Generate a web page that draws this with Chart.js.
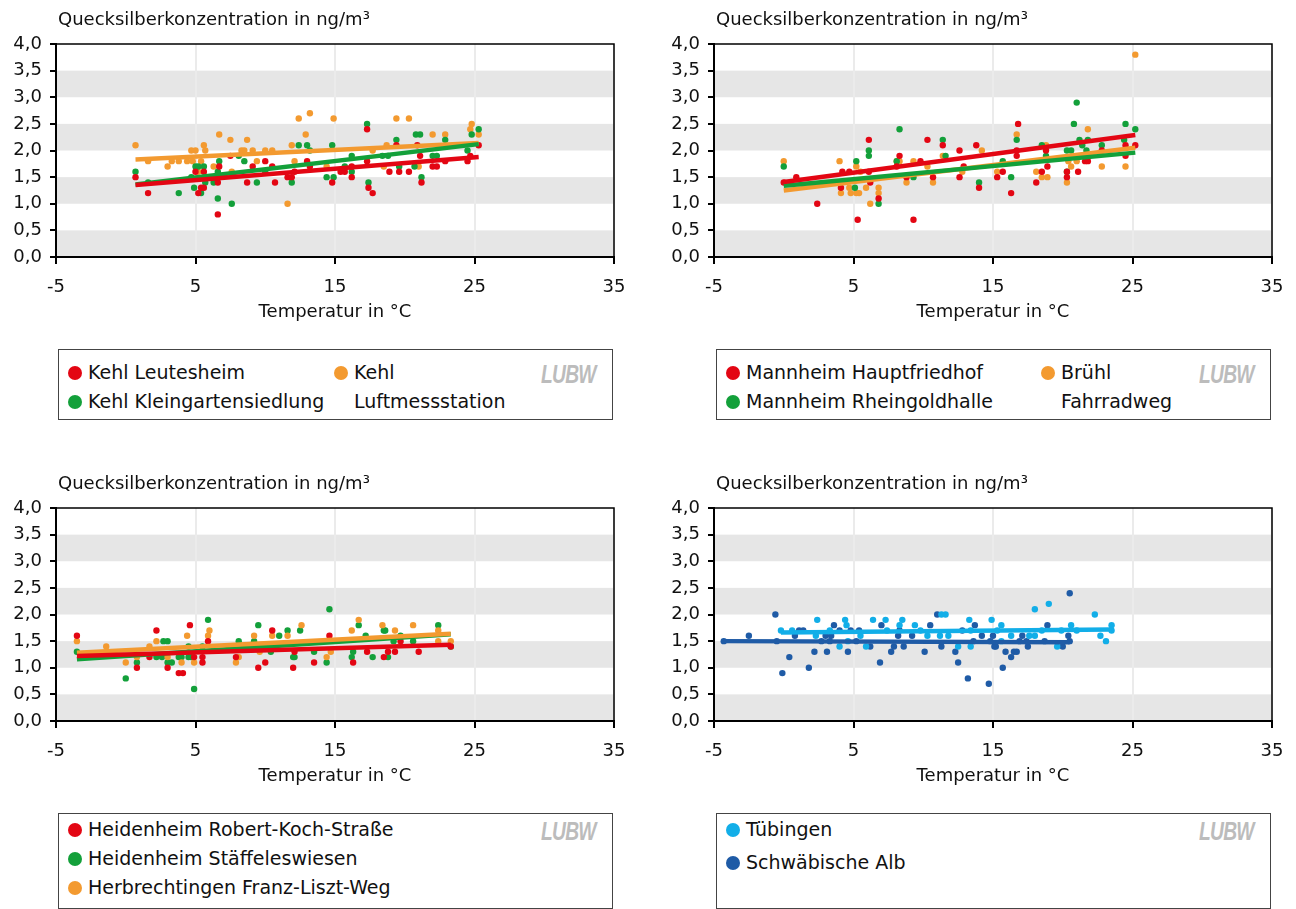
<!DOCTYPE html>
<html>
<head>
<meta charset="utf-8">
<script src="https://cdn.jsdelivr.net/npm/chart.js@4/dist/chart.umd.min.js"></script>
<style>
  body { margin: 0; background: #fff; font-family: "DejaVu Sans", sans-serif; color: #111; }
  .panel { position: absolute; width: 640px; height: 340px; }
  .panel canvas { position: absolute; left: 0; top: 0; }
  .ytitle { position: absolute; left: 58px; top: 8px; font-size: 18px; white-space: nowrap; }
  .legend { position: absolute; width: 555px; border: 1px solid #444; box-sizing: border-box; background: #fff; }
  .item { position: absolute; font-size: 19px; line-height: 29px; white-space: nowrap; }
  .dot { position: absolute; width: 14px; height: 14px; border-radius: 50%; }
  .logo { position: absolute; font: italic bold 26px "Liberation Sans", sans-serif; color: #bcbcbc;
          transform: scaleX(0.74); transform-origin: left top; letter-spacing: -1px; }
</style>
</head>
<body>
<div id="root"></div>
<script>
// axis ticks and background bands
const xTicks = [-5, 5, 15, 25, 35];
const yTicks = [0, 0.5, 1, 1.5, 2, 2.5, 3, 3.5, 4];
const grayBands = [[0, 0.5], [1, 1.5], [2, 2.5], [3, 3.5]];

const RED = '#e30613';
const GREEN = '#13a03a';
const ORANGE = '#f39a30';
const LIGHTBLUE = '#12aee8';
const DARKBLUE = '#1f5ba6';

// Kehl  [temperature °C, mercury ng/m³]
const kehlLeutesheim = [[0.7,1.5],[1.6,1.2],[5.0,1.6],[5.6,1.6],[5.4,1.3],[5.2,1.2],[5.6,1.3],[6.6,0.8],[6.6,1.4],[6.7,1.7],[7.5,1.9],[8.7,1.4],[9.1,1.7],[10.0,1.8],[10.5,1.7],[10.7,1.4],[11.6,1.5],[11.9,1.5],[12.1,1.6],[13.0,1.8],[13.2,1.7],[14.8,1.4],[15.4,1.6],[15.7,1.6],[16.2,1.7],[16.2,1.5],[17.3,2.4],[17.3,1.8],[17.4,1.3],[17.7,1.2],[18.9,1.6],[19.4,2.1],[19.6,1.6],[20.3,1.6],[20.9,2.1],[21.1,1.9],[21.2,1.4],[22.0,1.7],[22.3,1.7],[22.9,1.8],[24.5,1.8],[24.7,1.9],[25.3,2.1]];
const kehlKleingarten = [[0.7,1.6],[1.6,1.4],[3.8,1.2],[4.7,1.5],[4.9,1.3],[5.0,1.7],[5.2,1.7],[5.6,1.7],[5.4,1.2],[5.7,1.4],[6.3,1.4],[6.6,1.1],[6.7,1.8],[6.6,1.6],[7.6,1.0],[8.1,1.9],[8.5,1.8],[9.4,1.4],[10.0,1.6],[11.9,1.4],[12.4,2.1],[13.0,2.1],[13.2,2.0],[14.4,1.5],[14.8,2.1],[14.9,1.5],[15.7,1.7],[16.2,1.9],[16.2,1.6],[17.3,2.5],[17.4,1.4],[18.4,1.9],[18.8,1.9],[19.4,2.2],[19.6,1.7],[20.8,2.3],[21.1,2.3],[20.7,1.7],[21.2,1.5],[22.0,1.9],[22.3,1.9],[22.9,2.2],[24.5,2.0],[24.8,2.3],[25.3,2.4]];
const kehlLuftmess = [[0.7,2.1],[1.6,1.8],[3.0,1.7],[3.3,1.8],[3.8,1.8],[4.4,1.8],[4.7,2.0],[5.0,2.0],[4.8,1.8],[5.4,1.8],[5.6,2.1],[5.7,2.0],[6.3,1.7],[5.2,1.6],[6.7,2.3],[7.5,2.2],[7.6,1.6],[8.3,2.0],[8.5,2.0],[8.7,2.2],[9.1,2.0],[9.4,1.8],[10.0,2.0],[10.5,2.0],[11.6,1.0],[11.9,2.1],[12.1,1.8],[12.4,2.6],[12.9,2.3],[13.2,2.7],[14.4,1.7],[14.9,2.6],[17.7,2.0],[18.5,1.7],[18.7,2.1],[19.4,2.6],[20.3,2.6],[21.0,1.7],[22.0,2.3],[22.9,2.3],[24.7,2.4],[24.8,2.5],[25.3,2.3]];
const kehlLeutesheimTrend = [[0.7,1.35],[25.3,1.88]];
const kehlKleingartenTrend = [[0.7,1.36],[25.3,2.12]];
const kehlLuftmessTrend = [[0.7,1.83],[25.3,2.14]];

// Mannheim / Brühl
const mannheimHauptfriedhof = [[0,1.4],[0.9,1.5],[2.4,1.0],[4.1,1.3],[4.2,1.6],[4.7,1.6],[5.3,0.7],[6.1,2.2],[6.1,1.6],[6.2,1.4],[6.8,1.1],[8.1,1.7],[8.3,1.9],[8.8,1.5],[9.3,0.7],[9.8,1.8],[10.3,2.2],[10.7,1.5],[11.4,2.1],[12.6,2.0],[12.6,1.5],[12.9,1.7],[13.8,2.1],[14.0,1.3],[15.3,1.5],[15.7,1.6],[16.3,1.2],[16.7,2.0],[16.7,1.9],[16.8,2.5],[18.1,1.4],[18.5,1.6],[18.9,1.7],[18.8,2.0],[20.3,1.6],[20.3,1.5],[21.1,1.6],[21.6,1.8],[21.8,1.8],[22.8,2.0],[24.5,1.9],[24.5,2.1],[25.2,2.1]];
const mannheimRheingold = [[0,1.7],[5.2,1.8],[5.1,1.3],[6.1,2.0],[6.1,1.9],[6.8,1.0],[8.3,2.4],[8.1,1.8],[9.3,1.5],[11.4,2.2],[11.6,1.9],[14.0,1.4],[15.7,1.8],[16.3,1.5],[16.7,2.2],[18.5,2.1],[18.8,1.9],[20.3,2.0],[20.6,2.0],[20.3,1.6],[20.8,2.5],[21.0,2.9],[21.2,2.2],[21.4,2.1],[21.7,2.0],[21.8,2.2],[22.8,2.1],[24.4,2.2],[24.5,2.5],[25.2,2.4]];
const bruehlFahrradweg = [[0,1.8],[4.0,1.8],[4.1,1.2],[4.7,1.3],[4.8,1.2],[5.2,1.7],[5.2,1.2],[5.4,1.2],[5.5,1.6],[5.9,1.3],[6.2,1.0],[6.8,1.3],[6.8,1.2],[8.1,1.8],[8.3,1.8],[8.8,1.4],[9.3,1.8],[10.3,1.7],[10.7,1.4],[11.4,1.9],[12.8,1.6],[14.2,2.0],[15.3,1.6],[16.7,2.3],[18.1,1.6],[18.5,1.5],[18.8,2.1],[18.9,1.5],[20.3,1.4],[20.4,1.8],[20.6,1.7],[21.0,1.8],[21.8,2.4],[22.8,1.7],[24.5,1.7],[25.2,3.8]];
const mannheimHauptfriedhofTrend = [[0,1.41],[25.2,2.29]];
const mannheimRheingoldTrend = [[0,1.34],[25.2,1.96]];
const bruehlFahrradwegTrend = [[0,1.25],[25.2,2.05]];

// Heidenheim / Herbrechtingen
const heidenheimRobertKoch = [[-3.5,1.6],[0.8,1.0],[1.7,1.2],[2.2,1.7],[3.0,1.0],[3.8,0.9],[4.1,0.9],[4.6,1.8],[4.9,1.2],[5.5,1.2],[5.5,1.1],[5.9,1.5],[7.9,1.2],[9.5,1.0],[10.0,1.1],[10.5,1.7],[12.0,1.0],[12.1,1.3],[13.5,1.1],[14.6,1.6],[16.3,1.1],[17.3,1.3],[18.5,1.2],[18.8,1.3],[19.3,1.3],[19.7,1.5],[21.0,1.3],[23.3,1.4]];
const heidenheimStaeffeles = [[-3.5,1.3],[0,0.8],[0.8,1.1],[2.2,1.2],[2.6,1.2],[2.7,1.5],[3.0,1.5],[3.0,1.1],[3.3,1.1],[3.8,1.2],[4.0,1.2],[4.5,1.4],[4.5,1.2],[4.7,1.2],[4.9,0.6],[5.5,1.4],[5.9,1.9],[8.1,1.5],[9.2,1.5],[9.5,1.8],[10.4,1.3],[11.0,1.6],[11.6,1.7],[12.0,1.2],[12.1,1.2],[12.5,1.7],[13.5,1.3],[14.4,1.1],[14.6,2.1],[16.2,1.2],[16.3,1.3],[16.7,1.8],[17.2,1.6],[17.7,1.2],[18.5,1.7],[18.6,1.7],[18.8,1.2],[19.2,1.5],[19.7,1.6],[20.6,1.5],[22.4,1.8],[23.3,1.4]];
const herbrechtingen = [[-3.5,1.5],[-1.4,1.4],[0,1.1],[0.8,1.2],[1.7,1.4],[2.2,1.5],[3.0,1.2],[4.0,1.1],[4.4,1.6],[4.9,1.1],[5.9,1.6],[6.0,1.7],[8.1,1.2],[7.9,1.1],[9.2,1.6],[9.6,1.3],[10.5,1.6],[11.6,1.6],[12.6,1.8],[14.4,1.2],[14.7,1.3],[16.2,1.7],[16.7,1.9],[18.4,1.8],[19.3,1.7],[20.6,1.8],[22.4,1.7],[22.4,1.5],[23.3,1.5]];
const heidenheimRobertKochTrend = [[-3.5,1.22],[23.3,1.43]];
const heidenheimStaeffelesTrend = [[-3.5,1.16],[23.3,1.63]];
const herbrechtingenTrend = [[-3.5,1.28],[23.3,1.64]];

// Tübingen / Schwäbische Alb
const tuebingen = [[-0.2,1.7],[0.6,1.7],[2.4,1.9],[2.3,1.6],[3.3,1.7],[4.0,1.4],[4.4,1.9],[4.5,1.8],[4.6,1.5],[5.5,1.6],[5.9,1.4],[6.4,1.9],[7.3,1.9],[7.4,1.7],[8.3,1.8],[8.5,1.9],[9.4,1.8],[9.8,1.7],[10.3,1.6],[11.2,1.6],[11.3,2.0],[11.6,2.0],[11.8,1.6],[12.5,1.4],[13.3,1.9],[13.4,1.4],[13.4,1.7],[14.9,1.9],[15.3,1.7],[15.6,1.8],[15.6,1.5],[16.3,1.6],[17.6,1.6],[18.0,1.6],[18.0,2.1],[18.5,1.7],[19.0,2.2],[19.6,1.4],[19.9,1.7],[20.6,1.8],[21.0,1.7],[22.3,2.0],[22.7,1.6],[23.1,1.5],[23.5,1.7],[23.5,1.8]];
const schwaebischeAlb = [[-4.3,1.5],[-2.5,1.6],[-0.6,2.0],[-0.5,1.5],[-0.1,0.9],[0.4,1.2],[0.8,1.6],[1.1,1.7],[1.4,1.7],[1.8,1.0],[2.2,1.3],[2.7,1.5],[3.0,1.6],[3.1,1.3],[3.3,1.5],[3.4,1.6],[3.6,1.8],[4.0,1.7],[4.6,1.3],[4.8,1.7],[5.2,1.5],[5.4,1.7],[6.2,1.4],[6.9,1.1],[7.0,1.8],[7.7,1.3],[7.9,1.4],[8.2,1.6],[8.3,1.7],[8.6,1.4],[9.2,1.6],[10.1,1.3],[10.5,1.8],[11.0,2.0],[11.3,1.4],[12.3,1.3],[12.5,1.1],[12.8,1.7],[13.2,0.8],[13.6,1.5],[13.7,1.8],[14.2,1.6],[14.7,0.7],[14.8,1.5],[15.0,1.6],[15.1,1.4],[15.2,1.4],[15.7,1.0],[15.9,1.3],[16.3,1.2],[16.5,1.3],[16.7,1.3],[17.1,1.6],[16.9,1.5],[17.4,1.5],[17.5,1.4],[18.7,1.5],[18.9,1.8],[20.0,1.4],[20.4,1.6],[20.5,2.4],[20.5,1.5]];
const tuebingenTrend = [[-0.2,1.66],[23.5,1.72]];
const schwaebischeAlbTrend = [[-4.3,1.5],[20.5,1.48]];

const FONT = { family: 'DejaVu Sans', size: 18 };

const bandsPlugin = {
    id: 'bands',
    beforeDraw(chart) {
        const { ctx, chartArea, scales } = chart;
        ctx.save();
        ctx.fillStyle = '#e6e6e6';
        grayBands.forEach(([lo, hi]) => {
            const top = scales.y.getPixelForValue(hi);
            const bottom = scales.y.getPixelForValue(lo);
            ctx.fillRect(chartArea.left, top, chartArea.right - chartArea.left, bottom - top);
        });
        ctx.restore();
    }
};

// black frame on top and right side of the plot
const framePlugin = {
    id: 'frame',
    afterDraw(chart) {
        const { ctx, chartArea } = chart;
        ctx.save();
        ctx.strokeStyle = '#000';
        ctx.lineWidth = 1.5;
        ctx.beginPath();
        ctx.moveTo(chartArea.left, chartArea.top);
        ctx.lineTo(chartArea.right, chartArea.top);
        ctx.lineTo(chartArea.right, chartArea.bottom);
        ctx.stroke();
        ctx.restore();
    }
};

const toXY = pairs => pairs.map(([x, y]) => ({ x, y }));

function makePanel(left, top, series, legendItems, legendHeight) {
    const root = document.getElementById('root');
    const panel = document.createElement('div');
    panel.className = 'panel';
    panel.style.left = left + 'px';
    panel.style.top = top + 'px';
    panel.innerHTML = '<canvas width="640" height="340"></canvas>' +
        '<div class="ytitle">Quecksilberkonzentration in ng/m³</div>';
    root.appendChild(panel);

    const datasets = [];
    series.forEach((s, i) => {
        datasets.push({
            label: s.label + ' Trend',
            data: toXY(s.trend),
            showLine: true,
            borderColor: s.color,
            borderWidth: 4.5,
            pointRadius: 0,
            order: i
        });
    });
    series.forEach((s, i) => {
        datasets.push({
            label: s.label,
            data: toXY(s.points),
            backgroundColor: s.color,
            borderWidth: 0,
            pointRadius: 3.2,
            pointHoverRadius: 3.2,
            order: 10 + i
        });
    });

    new Chart(panel.querySelector('canvas'), {
        type: 'scatter',
        data: { datasets },
        options: {
            responsive: false,
            animation: false,
            events: [],
            layout: { padding: { left: 0, right: 26, top: 44, bottom: 0 } },
            plugins: { legend: { display: false }, tooltip: { enabled: false } },
            scales: {
                x: {
                    type: 'linear', min: -5, max: 35,
                    afterBuildTicks: s => { s.ticks = xTicks.map(v => ({ value: v })); },
                    afterFit: s => { s.height = 83; },
                    grid: { color: '#ebebeb', lineWidth: 2, tickColor: '#000', tickLength: 7, tickWidth: 2 },
                    border: { color: '#000', width: 2 },
                    ticks: { color: '#111', font: FONT, padding: 13, maxRotation: 0, autoSkip: false },
                    title: { display: true, text: 'Temperatur in °C', color: '#111', font: FONT, padding: { top: 0, bottom: 17 } }
                },
                y: {
                    type: 'linear', min: 0, max: 4,
                    afterBuildTicks: s => { s.ticks = yTicks.map(v => ({ value: v })); },
                    afterFit: s => { s.width = 56; },
                    grid: { drawOnChartArea: false, color: '#000', tickLength: 6, lineWidth: 2 },
                    border: { color: '#000', width: 2 },
                    ticks: { color: '#111', font: FONT, padding: 8, callback: v => v.toFixed(1).replace('.', ',') }
                }
            }
        },
        plugins: [bandsPlugin, framePlugin]
    });

    // legend box below the plot
    const box = document.createElement('div');
    box.className = 'legend';
    box.style.left = (left + 58) + 'px';
    box.style.top = (top + 349) + 'px';
    box.style.height = legendHeight + 'px';
    legendItems.forEach(it => {
        const dot = document.createElement('div');
        dot.className = 'dot';
        dot.style.background = it.color;
        dot.style.left = (it.x - 7) + 'px';
        dot.style.top = (it.y - 7) + 'px';
        box.appendChild(dot);
        const txt = document.createElement('div');
        txt.className = 'item';
        txt.style.left = (it.x + 13) + 'px';
        txt.style.top = (it.y - 15) + 'px';
        txt.innerHTML = it.text;
        box.appendChild(txt);
    });
    const logo = document.createElement('div');
    logo.className = 'logo';
    logo.textContent = 'LUBW';
    logo.style.left = '482px';
    logo.style.top = (legendItems[0].y - 14) + 'px';
    box.appendChild(logo);
    root.appendChild(box);
}

makePanel(0, 0, [
    { label: 'Kehl Leutesheim', color: RED, points: kehlLeutesheim, trend: kehlLeutesheimTrend },
    { label: 'Kehl Kleingartensiedlung', color: GREEN, points: kehlKleingarten, trend: kehlKleingartenTrend },
    { label: 'Kehl Luftmessstation', color: ORANGE, points: kehlLuftmess, trend: kehlLuftmessTrend }
], [
    { color: RED, x: 16, y: 23, text: 'Kehl Leutesheim' },
    { color: GREEN, x: 16, y: 52, text: 'Kehl Kleingartensiedlung' },
    { color: ORANGE, x: 282, y: 23, text: 'Kehl<br>Luftmessstation' }
], 71);

makePanel(658, 0, [
    { label: 'Mannheim Hauptfriedhof', color: RED, points: mannheimHauptfriedhof, trend: mannheimHauptfriedhofTrend },
    { label: 'Mannheim Rheingoldhalle', color: GREEN, points: mannheimRheingold, trend: mannheimRheingoldTrend },
    { label: 'Brühl Fahrradweg', color: ORANGE, points: bruehlFahrradweg, trend: bruehlFahrradwegTrend }
], [
    { color: RED, x: 16, y: 23, text: 'Mannheim Hauptfriedhof' },
    { color: GREEN, x: 16, y: 52, text: 'Mannheim Rheingoldhalle' },
    { color: ORANGE, x: 331, y: 23, text: 'Brühl<br>Fahrradweg' }
], 71);

makePanel(0, 464, [
    { label: 'Heidenheim Robert-Koch-Straße', color: RED, points: heidenheimRobertKoch, trend: heidenheimRobertKochTrend },
    { label: 'Herbrechtingen Franz-Liszt-Weg', color: ORANGE, points: herbrechtingen, trend: herbrechtingenTrend },
    { label: 'Heidenheim Stäffeleswiesen', color: GREEN, points: heidenheimStaeffeles, trend: heidenheimStaeffelesTrend }
], [
    { color: RED, x: 16, y: 16, text: 'Heidenheim Robert-Koch-Straße' },
    { color: GREEN, x: 16, y: 45, text: 'Heidenheim Stäffeleswiesen' },
    { color: ORANGE, x: 16, y: 74, text: 'Herbrechtingen Franz-Liszt-Weg' }
], 96);

makePanel(658, 464, [
    { label: 'Tübingen', color: LIGHTBLUE, points: tuebingen, trend: tuebingenTrend },
    { label: 'Schwäbische Alb', color: DARKBLUE, points: schwaebischeAlb, trend: schwaebischeAlbTrend }
], [
    { color: LIGHTBLUE, x: 16, y: 16, text: 'Tübingen' },
    { color: DARKBLUE, x: 16, y: 49, text: 'Schwäbische Alb' }
], 96);
</script>
</body>
</html>
